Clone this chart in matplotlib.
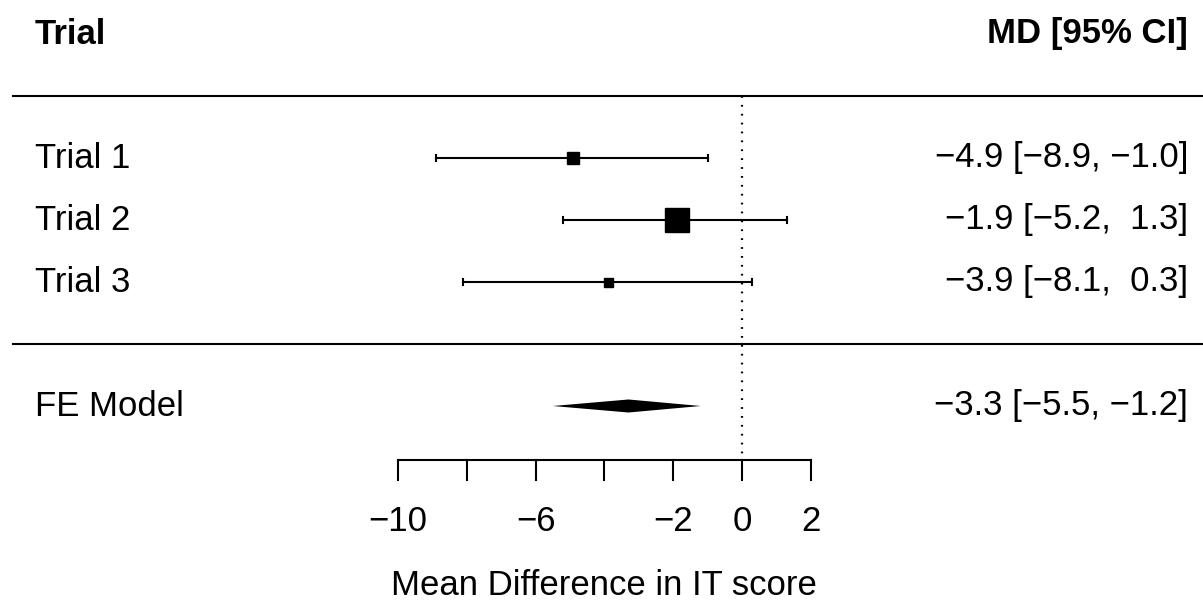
import numpy as np
import matplotlib.pyplot as plt
from matplotlib.patches import Polygon

plt.rcParams['font.family'] = ['Liberation Sans', 'DejaVu Sans']

# study data
trials = ['Trial 1', 'Trial 2', 'Trial 3']
md = [-4.9, -1.9, -3.9]
ci_lo = [-8.9, -5.2, -8.1]
ci_hi = [-1.0, 1.3, 0.3]
fe_label = 'FE Model'
fe_md, fe_lo, fe_hi = -3.3, -5.5, -1.2
xticks = [-10, -8, -6, -4, -2, 0, 2]
xtick_labels = ['\u221210', '', '\u22126', '', '\u22122', '0', '2']

fig = plt.figure(figsize=(12.03, 6.04), dpi=100)
ax = fig.add_axes([0, 0, 1, 1])
# map: 0 at px 742, 34.4 px per unit; row r at px 344 - 62*r
ax.set_xlim(-742 / 34.4, (1203 - 742) / 34.4)
ax.set_ylim((344 - 604) / 62, 344 / 62)
ax.axis('off')

k = len(trials)
rows = np.arange(k, 0, -1)

# weights from CI width -> square size
se = (np.array(ci_hi) - np.array(ci_lo)) / (2 * 1.96)
w = 1 / se**2
sz = 9 + 15 * (w - w.min()) / (w.max() - w.min())  # px
sz_pt = sz * 0.72

fs = 25
xmin_line = -21.2
xmax_line = 14
ax.plot([xmin_line, xmax_line], [k + 1, k + 1], color='black', lw=1.5)
ax.plot([xmin_line, xmax_line], [0, 0], color='black', lw=1.5)
ax.plot([0, 0], [k + 1, -1.87], color='black', lw=1.6, ls=(0, (0.8, 3.2)))

for r, m, lo, hi, s in zip(rows, md, ci_lo, ci_hi, sz_pt):
    ax.plot([lo, hi], [r, r], color='black', lw=1.5)
    for e in (lo, hi):
        ax.plot([e, e], [r - 0.045, r + 0.045], color='black', lw=1.5)
    ax.plot(m, r, marker='s', ms=s, color='black', mec='black')

h = 0.105
ax.add_patch(Polygon([(fe_lo, -1), (fe_md, -1 + h), (fe_hi, -1), (fe_md, -1 - h)],
                     closed=True, color='black', lw=0))

xl = -20.55
xr = 12.97
ax.text(xl, k + 2, 'Trial', fontsize=fs, fontweight='bold', ha='left', va='center')
ax.text(xr, k + 2, 'MD [95% CI]', fontsize=fs, fontweight='bold', ha='right', va='center')

def fmt(v):
    s = f'{abs(v):.1f}'
    return ('\u2212' + s) if v < 0 else (' ' + s)

def ci_text(m, lo, hi):
    return f'{fmt(m).strip()} [{fmt(lo).strip()}, {fmt(hi)}]'.replace(',  \u2212', ', \u2212')

for r, t, m, lo, hi in zip(rows, trials, md, ci_lo, ci_hi):
    ax.text(xl, r, t, fontsize=fs, ha='left', va='center')
    ax.text(xr, r, ci_text(m, lo, hi), fontsize=fs, ha='right', va='center')
ax.text(xl, -1, fe_label, fontsize=fs, ha='left', va='center')
ax.text(xr, -1, ci_text(fe_md, fe_lo, fe_hi), fontsize=fs, ha='right', va='center')

# x axis
ya = -1.87
ax.plot([xticks[0], xticks[-1]], [ya, ya], color='black', lw=1.5)
for t, lab in zip(xticks, xtick_labels):
    ax.plot([t, t], [ya, ya - 0.32], color='black', lw=1.5)
    if lab:
        ax.text(t, -2.87, lab, fontsize=fs, ha='center', va='center')
ax.text(np.mean([xticks[0], xticks[-1]]), -3.9, 'Mean Difference in IT score',
        fontsize=fs, ha='center', va='center')

fig.savefig('out.png', dpi=100)
